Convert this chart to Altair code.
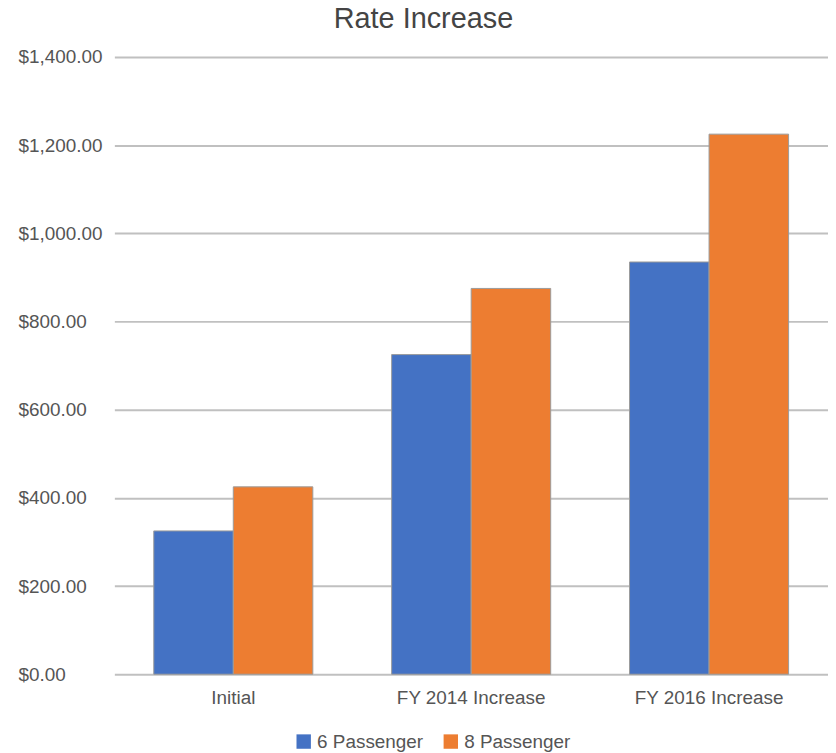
import altair as alt
import pandas as pd

categories = ["Initial", "FY 2014 Increase", "FY 2016 Increase"]
series = ["6 Passenger", "8 Passenger"]
six_passenger = [325, 725, 935]
eight_passenger = [425, 875, 1225]
colors = ["#4472C4", "#ED7D31"]
y_ticks = [0, 200, 400, 600, 800, 1000, 1200, 1400]

rows = []
for i, c in enumerate(categories):
    rows.append({"category": c, "series": series[0], "value": six_passenger[i]})
    rows.append({"category": c, "series": series[1], "value": eight_passenger[i]})
df = pd.DataFrame(rows)

FONT = "Liberation Sans"
TXT = "#555555"

chart = alt.Chart(df).mark_bar(stroke="#9a9a9a", strokeWidth=1).encode(
    x=alt.X("category:N", sort=categories,
            scale=alt.Scale(paddingInner=0.3314, paddingOuter=0.1657),
            axis=alt.Axis(title=None, labelAngle=0, ticks=False, domain=False,
                          labelPadding=14, labelFontSize=19, labelColor=TXT,
                          labelFont=FONT, grid=False)),
    xOffset=alt.XOffset("series:N", sort=series, scale=alt.Scale(paddingInner=0, paddingOuter=0)),
    y=alt.Y("value:Q", scale=alt.Scale(domain=[0, 1400], nice=False),
            axis=alt.Axis(title=None, values=y_ticks, format="$,.2f", ticks=False,
                          domain=False, labelPadding=97, labelAlign="left",
                          labelFontSize=19, labelColor=TXT, labelFont=FONT,
                          gridColor="#c0c0c0", gridWidth=2)),
    color=alt.Color("series:N", sort=series,
                    scale=alt.Scale(domain=series, range=colors),
                    legend=alt.Legend(title=None, orient="none", legendX=181, legendY=679,
                                      direction="horizontal", symbolType="square",
                                      symbolSize=210, symbolStrokeWidth=0,
                                      labelFontSize=19, labelColor=TXT,
                                      labelFont=FONT, columnPadding=18,
                                      labelOffset=4)),
).properties(
    width=718,
    height=621,
    title=alt.TitleParams("Rate Increase", fontSize=29, font=FONT, fontWeight="normal",
                          color="#444444", anchor="middle", offset=14, dx=-48),
    padding={"left": 107, "top": 47, "right": 0, "bottom": 82},
    autosize=alt.AutoSizeParams(type="none"),
).configure_view(stroke=None)

chart.save("out.html", embed_options={"renderer": "svg", "actions": False})
